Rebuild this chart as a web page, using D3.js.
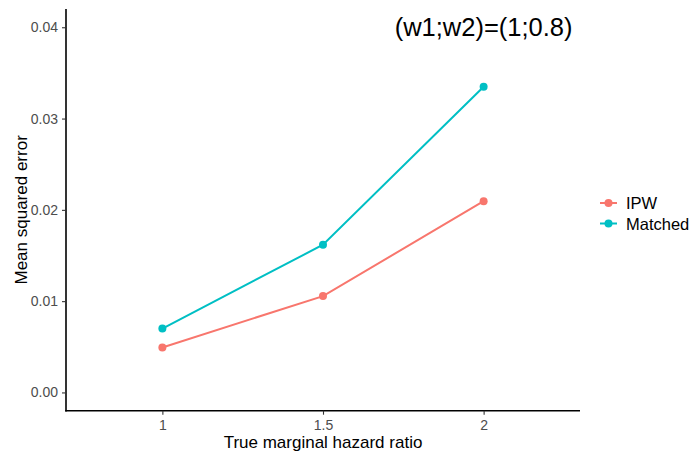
<!DOCTYPE html>
<html>
<head>
<meta charset="utf-8">
<script src="https://cdn.jsdelivr.net/npm/d3@7"></script>
<style>
  body { margin: 0; background: #fff; }
  svg { font-family: "Liberation Sans", Arial, sans-serif; }
</style>
</head>
<body>
<svg id="chart" width="695" height="458"></svg>
<script>
'use strict';

let ratios = ['1', '1.5', '2'];
let ipw = [0.00493, 0.01055, 0.02095];
let matched = [0.0070, 0.01618, 0.03348];
let yTicks = [0, 0.01, 0.02, 0.03, 0.04];
let seriesNames = ['IPW', 'Matched'];
let seriesColors = ['#F8766D', '#00BFC4'];
let annotation = '(w1;w2)=(1;0.8)';

let svg = d3.select('#chart');
let plot = { x: 66, y: 9, w: 514, h: 401.7 };

let x = d3.scalePoint()
  .domain(ratios)
  .range([plot.x, plot.x + plot.w])
  .padding(0.6);
let y = d3.scaleLinear()
  .domain([-0.002, 0.042])
  .range([plot.y + plot.h, plot.y]);

let series = [ipw, matched].map((vals, k) => ({
  name: seriesNames[k],
  color: seriesColors[k],
  points: vals.map((v, i) => ({ r: ratios[i], v: v })),
}));

// axes
let xAxis = svg.append('g')
  .attr('transform', `translate(0,${plot.y + plot.h})`)
  .call(d3.axisBottom(x).tickSizeOuter(0).tickSize(4).tickPadding(5));
let yAxis = svg.append('g')
  .attr('transform', `translate(${plot.x},0)`)
  .call(d3.axisLeft(y).tickValues(yTicks).tickFormat(d3.format('.2f'))
    .tickSizeOuter(0).tickSize(4).tickPadding(4));

[xAxis, yAxis].forEach(a => {
  a.select('.domain').attr('stroke', '#000').attr('stroke-width', 1.6);
  a.selectAll('.tick line').attr('stroke', '#333').attr('stroke-width', 1.1);
  a.selectAll('.tick text')
    .attr('fill', '#4D4D4D')
    .style('font-size', '14px')
    .style('font-family', '"Liberation Sans", Arial, sans-serif');
});
// extend x axis line to the y axis
xAxis.select('.domain').attr('d', `M${plot.x - 0.8},0H${plot.x + plot.w}`);
yAxis.select('.domain').attr('d', `M0,${plot.y}V${plot.y + plot.h + 0.8}`);

// lines and points
let line = d3.line().x(d => x(d.r)).y(d => y(d.v));
series.forEach(s => {
  svg.append('path')
    .datum(s.points)
    .attr('d', line)
    .attr('fill', 'none')
    .attr('stroke', s.color)
    .attr('stroke-width', 2);
  svg.selectAll(null)
    .data(s.points)
    .enter()
    .append('circle')
    .attr('cx', d => x(d.r))
    .attr('cy', d => y(d.v))
    .attr('r', 4)
    .attr('fill', s.color);
});

// annotation
svg.append('text')
  .attr('x', x('2'))
  .attr('y', y(0.04))
  .attr('text-anchor', 'middle')
  .attr('dominant-baseline', 'central')
  .style('font-size', '25.5px')
  .attr('fill', '#000')
  .text(annotation);

// axis titles
svg.append('text')
  .attr('x', plot.x + plot.w / 2)
  .attr('y', 447.5)
  .attr('text-anchor', 'middle')
  .style('font-size', '17px')
  .text('True marginal hazard ratio');
svg.append('text')
  .attr('transform', `translate(27,${plot.y + plot.h / 2}) rotate(-90)`)
  .attr('text-anchor', 'middle')
  .style('font-size', '17px')
  .text('Mean squared error');

// legend
let legend = svg.append('g')
  .attr('transform', 'translate(600,203)');
series.forEach((s, i) => {
  let g = legend.append('g').attr('transform', `translate(0,${i * 20.5})`);
  g.append('line')
    .attr('x1', 0).attr('x2', 17)
    .attr('stroke', s.color).attr('stroke-width', 2);
  g.append('circle')
    .attr('cx', 8.5).attr('r', 4)
    .attr('fill', s.color);
  g.append('text')
    .attr('x', 26)
    .attr('dominant-baseline', 'central')
    .style('font-size', '16.5px')
    .text(s.name);
});
</script>
</body>
</html>
